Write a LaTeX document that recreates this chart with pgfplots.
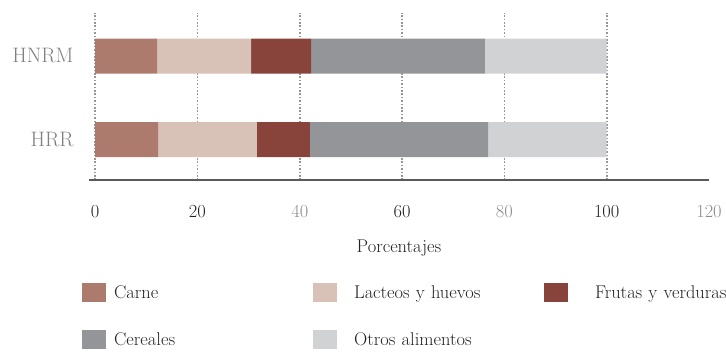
\documentclass[border=0pt]{standalone}
\usepackage{pgfplots}
\pgfplotsset{compat=1.18}
\usepackage{pgfplotstable}

\definecolor{carne}{HTML}{AC7B6D}
\definecolor{lacteos}{HTML}{D8C2B7}
\definecolor{frutas}{HTML}{88443A}
\definecolor{cereales}{HTML}{949599}
\definecolor{otros}{HTML}{D1D2D4}
\definecolor{ticklight}{HTML}{8C8C8C}
\definecolor{tickdark}{HTML}{222222}
\definecolor{catgray}{HTML}{808080}
\definecolor{axisgray}{HTML}{5A5A5A}
\definecolor{gridgray}{HTML}{959595}

% Share of each food group, in percent
\pgfplotstableread{
grp carne lacteos frutas cereales otros
0   12.3  19.3    10.4   34.8     23.2
1   12.1  18.4    11.7   34.0     23.8
}\datatable

\newcommand{\txt}{\fontsize{18.5}{21}\selectfont}
\newcommand{\cattxt}{\fontsize{21}{24}\selectfont}

\begin{document}
\begin{tikzpicture}
\begin{axis}[
  scale only axis,
  width=620bp, height=167bp,
  xbar stacked,
  bar width=35bp,
  xmin=-1.2, xmax=120,
  ymin=-0.485, ymax=1.515,
  axis x line*=bottom,
  axis y line*=left,
  x axis line style={axisgray, line width=2.4bp, -},
  y axis line style={draw=none},
  xtick={0,20,40,60,80,100},
  xticklabels={{\color{tickdark}0},{\color{tickdark}20},{\color{ticklight}40},
               {\color{tickdark}60},{\color{ticklight}80},{\color{tickdark}100}},
  extra x ticks={120},
  extra x tick labels={{\color{ticklight}120}},
  extra x tick style={grid=none},
  ytick={0,1},
  yticklabels={HRR,HNRM},
  major tick length=0pt,
  xmajorgrids,
  grid style={gridgray, line width=1.7bp, dash pattern=on 1.6bp off 1.8bp},
  xticklabel style={font=\txt, yshift=-22bp},
  yticklabel style={font=\cattxt, color=catgray, xshift=-12bp},
  xlabel={Porcentajes},
  xlabel style={font=\txt, color=tickdark, yshift=-15bp},
  legend columns=3,
  legend cell align=left,
  legend image code/.code={\fill[#1] (0bp,-9.5bp) rectangle (24bp,9.5bp);},
  legend style={
    draw=none, fill=none, font=\txt, text=tickdark,
    at={(axis description cs:-0.011,-0.617)}, anchor=north west,
    inner sep=0pt, outer sep=0pt,
    row sep=28bp,
    /tikz/every odd column/.append style={column sep=6bp},
    /tikz/every even column/.append style={text width=197bp},
  },
]
\addplot[fill=carne, draw=none] table[x=carne, y=grp] {\datatable};
\addlegendentry{Carne}
\addplot[fill=lacteos, draw=none] table[x=lacteos, y=grp] {\datatable};
\addlegendentry{\hspace*{9bp}Lacteos y huevos}
\addplot[fill=frutas, draw=none] table[x=frutas, y=grp] {\datatable};
\addlegendentry{\hspace*{19bp}Frutas y verduras}
\addplot[fill=cereales, draw=none] table[x=cereales, y=grp] {\datatable};
\addlegendentry{Cereales}
\addplot[fill=otros, draw=none] table[x=otros, y=grp] {\datatable};
\addlegendentry{\hspace*{9bp}Otros alimentos}
\coordinate (sw) at (rel axis cs:0,0);
\coordinate (ne) at (rel axis cs:1,1);
\end{axis}
\pgfresetboundingbox
\path ([shift={(-89bp,-172bp)}]sw) rectangle ([shift={(17bp,13bp)}]ne);
\end{tikzpicture}
\end{document}
